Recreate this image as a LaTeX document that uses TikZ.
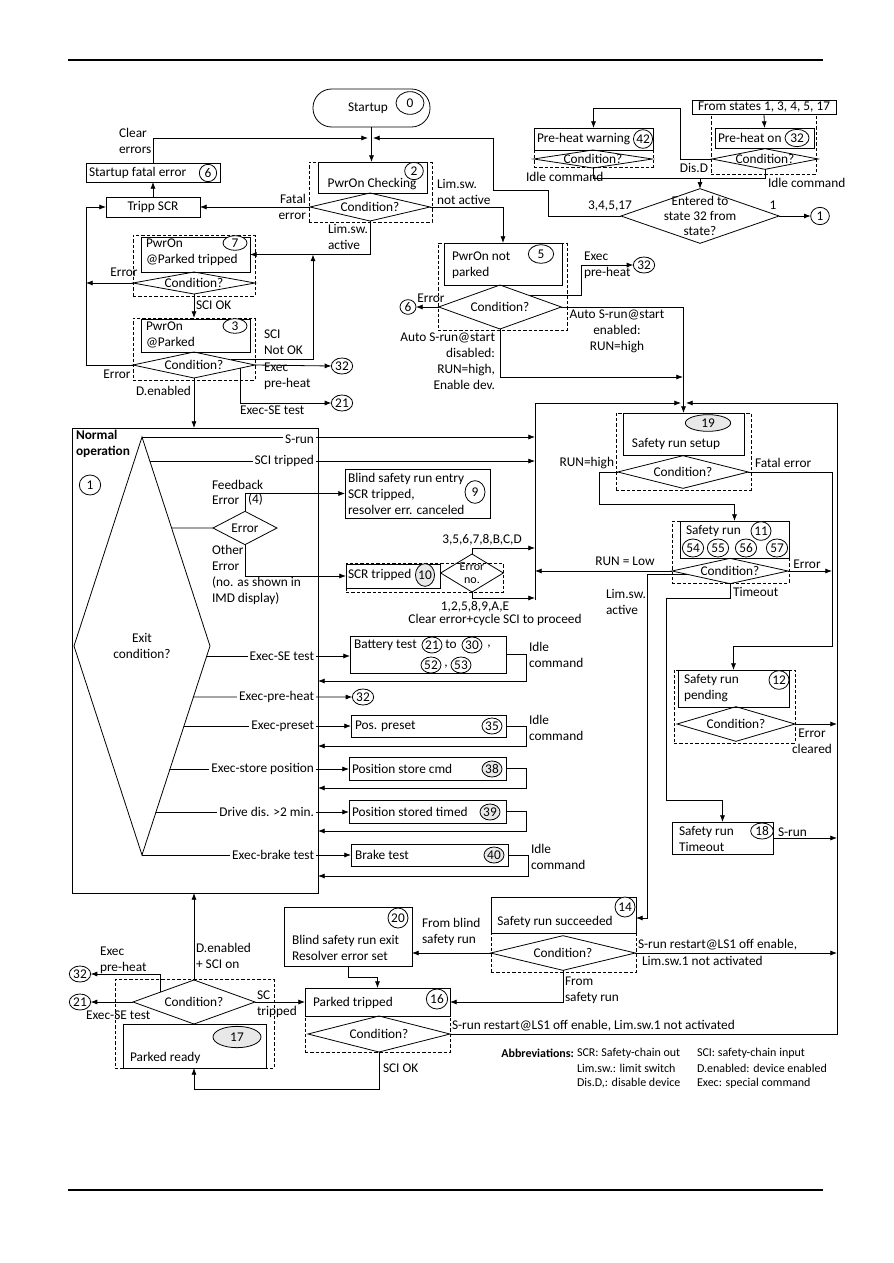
\documentclass[tikz,border=0pt]{standalone}
\usepackage{fontspec}
\setmainfont{Carlito}
\usetikzlibrary{shapes.geometric,arrows.meta,fit,calc}
\begin{document}
\begin{tikzpicture}[x=0.75pt,y=-0.75pt,font=\fontsize{10}{12}\selectfont,line width=0.6pt,
 arr/.style={-{Latex[length=5pt,width=3.8pt]}},
 bx/.style={draw,rectangle,inner sep=0pt,outer sep=0pt},
 dbx/.style={draw,rectangle,dash pattern=on 2.4pt off 1.6pt,inner sep=0pt,outer sep=0pt},
 dia/.style={draw,diamond,inner sep=0pt,outer sep=0pt},
 num/.style={draw,ellipse,inner sep=0pt,outer sep=0pt,minimum width=15pt,minimum height=12pt,fill=white},
 gnum/.style={num,fill=gray!18},
 tx/.style={inner sep=0pt,outer sep=0pt},
 lw/.style={tx,anchor=west,align=left},
 le/.style={tx,anchor=east,align=right},
 br/.style={anchor=east,fill=white,inner sep=1.5pt,outer sep=0pt},
 rule/.style={line width=0.8pt}]
\path[fill=white,use as bounding box] (0,0) rectangle (893,1263);
\draw[rule] (68,60) -- (823,60);
\draw[rule] (68,1190) -- (823,1190);

% ---------------- top left ----------------
\node[bx,rounded corners=14pt,fit={(313,89) (430,127)}] (start) {};
\node[tx] (tstart) at (368,108) {Startup};
\node[num,minimum width=21pt,minimum height=17pt] (n0) at (410,103) {0};
\coordinate (m0l) at (368,138);
\coordinate (m0r) at (373,138);

\node[dbx,fit={(309,162) (432,222)}] (c2) {};
\node[bx,fit={(318,162) (427,193)}] (b2) {};
\node[tx] (t2) at (372,184) {PwrOn Checking};
\node[num,minimum width=14pt,minimum height=13pt] (n2) at (414,171) {2};
\node[dia,minimum width=90pt,minimum height=21pt,label=center:{Condition?}] (d2) at (370,207) {};

\node[bx,fit={(86,163) (220,182)}] (sfe) {};
\node[lw] (tsfe) at (89,173) {Startup fatal error};
\node[num,minimum width=13pt,minimum height=13pt] (n6a) at (208,173) {6};
\node[bx,fit={(106,197) (200,217)},label=center:{Tripp SCR}] (tripp) {};
\node[lw] (tce) at (119,141) {Clear\\errors};
\node[le] (tfe) at (306,207) {Fatal\\error};
\node[lw] (tlna) at (437,192) {Lim.sw.\\not active};
\node[lw] (tla) at (328,237) {Lim.sw.\\active};

% box 7
\node[dbx,fit={(133,235) (255,296)}] (c7) {};
\node[bx,fit={(141,237) (250,272)}] (b7) {};
\node[lw] (t7) at (146,252) {PwrOn\\@Parked tripped};
\node[num,minimum width=18pt,minimum height=11pt] (n7) at (235,243) {7};
\node[dia,minimum width=91.5pt,minimum height=16.5pt,label=center:{Condition?}] (d7) at (194,283) {};
\node[tx] (te7) at (124,272) {Error};
\node[lw] (tsok) at (196,305) {SCI OK};

% box 3
\node[dbx,fit={(133,318) (255,380)}] (c3) {};
\node[bx,fit={(141,319) (250,352)}] (b3) {};
\node[lw] (t3) at (146,335) {PwrOn\\@Parked};
\node[num,minimum width=18pt,minimum height=11pt] (n3) at (235,326) {3};
\node[dia,minimum width=91.5pt,minimum height=19.5pt,label=center:{Condition?}] (d3) at (194,365) {};
\node[tx] (te3) at (117,374) {Error};
\node[lw] (tsnok) at (264,342) {SCI\\Not OK};
\node[lw] (tep3) at (264,376) {Exec\\pre-heat};
\node[lw] (tse3) at (240,410) {Exec-SE test};
\node[le] (tden) at (191,391) {D.enabled};
\node[num,minimum width=16pt,minimum height=12pt] (n32a) at (342,366) {32};
\node[num,minimum width=16pt,minimum height=12pt] (n21a) at (342,403) {21};

% box 5
\node[dbx,fit={(438,243) (567,330)}] (c5) {};
\node[bx,fit={(444,243) (562,285)}] (b5) {};
\node[lw] (t5) at (452,265) {PwrOn not\\parked};
\node[num,minimum width=19pt,minimum height=14pt] (n5) at (541,254) {5};
\node[dia,minimum width=92pt,minimum height=33pt,label=center:{Condition?}] (d5) at (500,307) {};
\node[num,minimum width=12pt,minimum height=11pt] (n6b) at (408,307) {6};
\node[tx] (te5) at (431,298) {Error};
\node[lw] (tep5) at (584,265) {Exec\\pre-heat};
\node[num,minimum width=16pt,minimum height=12pt] (n32b) at (644,265) {32};
\node[tx,align=center] (taen) at (617,331) {Auto S-run@start\\enabled:\\RUN=high};
\node[le] (tadis) at (495,361) {Auto S-run@start\\disabled:\\RUN=high,\\Enable dev.};

% ---------------- top right ----------------
\node[bx,fit={(692,100) (836,114)},label=center:{From states 1, 3, 4, 5, 17}] (fs) {};
\node[dbx,fit={(711,114) (816,174)}] (c32) {};
\node[bx,fit={(715,128) (814,148)}] (b32) {};
\node[lw] (t32) at (718,138) {Pre-heat on};
\node[num,minimum width=18pt,minimum height=13pt] (n32) at (797,138) {32};
\node[dia,minimum width=79.5pt,minimum height=15.5pt,label=center:{Condition?}] (d32) at (765,159) {};

\node[dbx,fit={(534,128) (653,167)}] (c42) {};
\node[bx,fit={(534,128) (653,150)}] (b42) {};
\node[lw] (t42) at (537,139) {Pre-heat warning};
\node[num,minimum width=14pt,minimum height=14pt] (n42) at (643,139) {42};
\node[dia,minimum width=89pt,minimum height=13.5pt,label=center:{Condition?}] (d42) at (593,159) {};
\node[tx] (tdisd) at (694,168) {Dis.D};
\node[lw] (tic1) at (526,177) {Idle command};
\node[lw] (tic2) at (768,183) {Idle command};

\node[dia,minimum width=118.5pt,minimum height=41pt,label={[align=center,font=\fontsize{10}{11}\selectfont]center:Entered to\\state 32 from\\state?}] (de) at (700,216) {};
\node[tx] (t3455) at (610,206) {3,4,5,17};
\node[tx] (tone) at (773,205) {1};
\node[num,minimum width=14pt,minimum height=13pt] (n1b) at (820,216) {1};

% ---------------- normal operation ----------------
\node[bx,fit={(72,428) (318,893)}] (norm) {};
\node[lw,anchor=north west,font=\fontsize{10}{12}\selectfont\bfseries] (tnorm) at (76,430) {Normal\\operation};
\node[num,minimum width=16pt,minimum height=15pt] (n1) at (90,485) {1};
\node[dia,minimum width=102pt,minimum height=313.5pt,label={[align=center]center:Exit\\condition?}] (exit) at (142,646) {};

\node[dia,minimum width=48pt,minimum height=25pt,label=center:{Error}] (de1) at (245,528) {};
\node[lw] (tfb) at (212,485) {Feedback};
\node[lw] (tfe1) at (212,500) {Error};
\node[lw] (tfe4) at (248,500) {(4)};
\node[lw,anchor=north west] (toe) at (212,545) {Other\\Error\\(no. as shown in\\IMD display)};

\node[bx,fit={(345,469) (490,518)}] (b9) {};
\node[lw] (t9) at (348,494) {Blind safety run entry\\SCR tripped,\\resolver err. canceled};
\node[num,minimum width=15pt,minimum height=17pt] (n9) at (475,492) {9};

\node[dbx,fit={(346,563) (503,592)}] (c10) {};
\node[bx,fit={(346,564) (440,588)}] (b10) {};
\node[lw] (t10) at (348,575) {SCR tripped};
\node[gnum,minimum width=13pt,minimum height=17pt] (n10) at (425,575) {10};
\node[dia,minimum width=47pt,minimum height=28.5pt,label={[align=center,font=\fontsize{9}{10}\selectfont]center:Error\\no.}] (dn) at (472,573) {};
\node[tx] (tnum1) at (482,540) {3,5,6,7,8,B,C,D};
\node[tx] (tnum2) at (475,607) {1,2,5,8,9,A,E};
\node[tx] (tclr) at (495,620) {Clear error+cycle SCI to proceed};

\node[bx,fit={(350,636) (506,673)}] (bat) {};
\node[lw] (tbat) at (354,645) {Battery test};
\node[num] (n21b) at (432,645) {21};
\node[tx] (tto) at (451,644) {to};
\node[num] (n30) at (472,645) {30};
\node[tx] (tcm1) at (489,647) {,};
\node[num] (n52) at (431,665) {52};
\node[tx] (tcm2) at (446,667) {,};
\node[num] (n53) at (461,665) {53};
\node[lw] (tidle1) at (529,655) {Idle\\command};
\node[num,minimum width=16pt,minimum height=12pt] (n32d) at (363,697) {32};

\node[bx,fit={(351,715) (506,737)}] (pp) {};
\node[lw] (tpp) at (355,726) {Pos. preset};
\node[num] (n35) at (492,726) {35};
\node[lw] (tidle2) at (529,728) {Idle\\command};

\node[bx,fit={(349,757) (506,780)}] (ps) {};
\node[lw] (tps) at (352,769) {Position store cmd};
\node[gnum] (n38) at (492,769) {38};

\node[bx,fit={(349,800) (506,823)}] (pt) {};
\node[lw] (tpt) at (352,812) {Position stored timed};
\node[gnum] (n39) at (490,812) {39};

\node[bx,fit={(351,844) (508,866)}] (bt) {};
\node[lw] (tbt) at (355,855) {Brake test};
\node[gnum] (n40) at (494,855) {40};
\node[lw] (tidle3) at (531,857) {Idle\\command};

% ---------------- right column ----------------
\node[dbx,fit={(616,413) (751,490)}] (c19) {};
\node[bx,fit={(623,413) (744,455)}] (b19) {};
\node[tx] (t19) at (676,444) {Safety run setup};
\node[gnum,minimum width=34pt,minimum height=12.5pt] (n19) at (708,423) {19};
\node[dia,minimum width=98pt,minimum height=24.5pt,label=center:{Condition?}] (d19) at (683,472) {};
\node[le] (trh) at (614,463) {RUN=high};
\node[lw] (tfat) at (755,463) {Fatal error};

\node[dbx,fit={(672,521) (789,583)}] (c11) {};
\node[bx,fit={(680,521) (789,558)}] (b11) {};
\node[lw] (t11) at (686,531) {Safety run};
\node[num,minimum width=15pt,minimum height=14pt] (n11) at (761,531) {11};
\node[num,minimum width=16pt,minimum height=13.5pt] (n54) at (693,548) {54};
\node[num,minimum width=16pt,minimum height=13.5pt] (n55) at (718,548) {55};
\node[num,minimum width=16pt,minimum height=13.5pt] (n56) at (746,548) {56};
\node[num,minimum width=16pt,minimum height=13.5pt] (n57) at (777,548) {57};
\node[dia,minimum width=87pt,minimum height=19pt,label=center:{Condition?}] (d11) at (730,571) {};
\node[tx] (trl) at (625,561) {RUN = Low};
\node[tx] (terr11) at (807,564) {Error};
\node[lw] (tto11) at (733,592) {Timeout};
\node[lw] (tlsa) at (606,602) {Lim.sw.\\active};

\node[dbx,fit={(674,670) (795,743)}] (c12) {};
\node[bx,fit={(678,670) (789,707)}] (b12) {};
\node[lw] (t12) at (684,688) {Safety run\\pending};
\node[num,minimum width=15pt,minimum height=14pt] (n12) at (779,680) {12};
\node[dia,minimum width=88.5pt,minimum height=26pt,label=center:{Condition?}] (d12) at (736,724) {};
\node[tx,align=center] (tecl) at (812,741) {Error\\cleared};

\node[bx,fit={(672,822) (773,854)}] (b18) {};
\node[lw] (t18) at (679,839) {Safety run\\Timeout};
\node[num,minimum width=17pt,minimum height=12pt] (n18) at (762,831) {18};
\node[lw] (tsr18) at (778,832) {S-run};

% ---------------- bottom ----------------
\node[dbx,fit={(491,897) (636,972)}] (c14) {};
\node[bx,fit={(491,897) (636,933)}] (b14) {};
\node[tx] (t14) at (555,922) {Safety run succeeded};
\node[num,minimum width=15pt,minimum height=15pt] (n14) at (625,907) {14};
\node[dia,minimum width=108.5pt,minimum height=26pt,label=center:{Condition?}] (d14) at (563,953) {};
\node[lw] (tfbs) at (422,932) {From blind\\safety run};
\node[lw] (tfsr) at (565,990) {From\\safety run};
\node[lw] (tsr1) at (638,945) {S-run restart@LS1 off enable,};
\node[lw] (tsr2) at (642,961) {Lim.sw.1 not activated};

\node[bx,fit={(284,907) (412,966)}] (b20) {};
\node[lw] (t20) at (292,948) {Blind safety run exit\\Resolver error set};
\node[num,minimum width=15pt,minimum height=15pt] (n20) at (398,918) {20};

\node[dbx,fit={(305,988) (450,1052)}] (c16) {};
\node[bx,fit={(305,988) (450,1016)}] (b16) {};
\node[lw] (t16) at (313,1003) {Parked tripped};
\node[num,minimum width=16pt,minimum height=15pt] (n16) at (437,999) {16};
\node[dia,minimum width=106.5pt,minimum height=27pt,label=center:{Condition?}] (d16) at (379,1034) {};
\node[lw] (tsr3) at (452,1026) {S-run restart@LS1 off enable, Lim.sw.1 not activated};
\node[lw] (tsok16) at (383,1068) {SCI OK};

\node[dbx,fit={(115,979) (274,1068)}] (c17) {};
\node[bx,fit={(123,1024) (266,1068)}] (b17) {};
\node[gnum,minimum width=36pt,minimum height=16pt] (n17) at (237,1037) {17};
\node[lw] (t17) at (130,1058) {Parked ready};
\node[dia,minimum width=91.5pt,minimum height=33pt,label=center:{Condition?}] (d17) at (194,1002) {};
\node[lw] (tden17) at (196,956) {D.enabled\\+ SCI on};
\node[lw] (tsct) at (257,1004) {SC\\tripped};
\node[lw] (tep17) at (100,960) {Exec\\pre-heat};
\node[lw] (tse17) at (86,1015) {Exec-SE test};
\node[num,minimum width=16pt,minimum height=12pt] (n32c) at (80,974) {32};
\node[num,minimum width=16pt,minimum height=12pt] (n21c) at (80,1002) {21};

% abbreviations
\begin{scope}[font=\fontsize{9}{11}\selectfont]
\node[le,font=\fontsize{9}{11}\selectfont\bfseries] (tabb) at (574,1053) {Abbreviations:};
\node[lw] (ta1) at (577,1053) {SCR: Safety-chain out};
\node[lw] (ta2) at (577,1068) {Lim.sw.: limit switch};
\node[lw] (ta3) at (577,1083) {Dis.D,: disable device};
\node[lw] (ta4) at (697,1053) {SCI: safety-chain input};
\node[lw] (ta5) at (697,1068) {D.enabled: device enabled};
\node[lw] (ta6) at (697,1083) {Exec: special command};
\end{scope}

% ---------------- coordinates ----------------
\coordinate (ej) at (86,207);
\coordinate (jl) at (313,254.5);
\coordinate (k1) at (548,190);
\coordinate (k2) at (493,138);
\coordinate (k3) at (680,108);
\coordinate (k4) at (700,178);
\coordinate (ja) at (683,377);
\coordinate (cb) at (535,600);
\coordinate (col) at (535,440);
\coordinate (j19l) at (681,403);
\coordinate (j19r) at (686,403);
\coordinate (rlt) at (837,403);
\coordinate (cq1) at (535,548);
\coordinate (cq2) at (535,598);
\coordinate (k5) at (599,504);
\coordinate (k6) at (832,646);
\coordinate (k7) at (666,598);
\coordinate (k8) at (666,800);
\coordinate (k9) at (647,918);
\coordinate (k11) at (194,1089);
\coordinate (e5) at (581,265);
\coordinate (r1) at (526,681);
\coordinate (r2) at (526,746);
\coordinate (r3) at (526,788);
\coordinate (r4) at (526,831);
\coordinate (r5) at (528,876);

% ---------------- connectors ----------------
\draw[arr] (start.south) -- (start.south |- b2.north);
\draw[arr] (tripp.north |- sfe.north) |- (m0l);
\draw[arr] (tripp.north) -- (tripp.north |- sfe.south);
\draw[arr] (d2.west) -- (d2.west -| tripp.east);
\draw[arr] (d2.east) -| (b5.north);
\draw[arr] (d2.south) |- (b7.east);
\draw[arr] (de.west) -| (k1) -| (k2) -- (m0r);

\draw[arr] (d7.west) -- (d7.west -| ej);
\draw[arr] (d7.south) -- (d7.south |- c3.north);
\draw[arr] (d3.west) -| (ej) -- (tripp.west);
\draw[arr] ($(d3.north)!0.6!(d3.east)$) -| (jl);
\draw[arr] (d3.east) -- (n32a.west);
\draw[arr] ($(d3.east)!0.24!(d3.south)$) |- (n21a.west);
\draw[arr] (d3.south) -- (d3.south |- norm.north);

\draw[arr] (d5.west) -- (n6b.east);
\draw[arr] ($(d5.north)!0.48!(d5.east)$) -| (e5) -- (n32b.west);
\draw[arr] (d5.east) -| (b19.north);
\draw[arr] (d5.south) |- (ja);

\draw[arr] (fs.south) -- (b32.north);
\draw[arr] (d32.west) -| (k3) -| (b42.north);
\draw (d42.south) |- (k4);
\draw (d32.south) |- (k4);
\draw[arr] (k4) -- (de.north);
\draw[arr] (de.east) -- (n1b.west);

% normal operation branches
\draw[arr] (exit.north) -- (exit.north -| col);
\draw[arr] ($(exit.north)!0.115!(exit.east)$) coordinate (p1) -- (p1 -| col);
\draw ($(exit.north)!0.4354!(exit.east)$) -- (de1.west);
\draw[arr] (de1.north) |- (b9.west);
\draw[arr] (de1.south) |- (b10.west);
\draw[arr] (dn.north) |- (cq1);
\draw[arr] (dn.south) |- (cq2);
\draw[arr] (cb) |- (j19l);
\draw[arr] ($(exit.east)!0.0478!(exit.south)$) coordinate (p2) -- (p2 -| bat.west);
\draw[arr] ($(exit.east)!0.244!(exit.south)$) -- (n32d.west);
\draw[arr] ($(exit.east)!0.3828!(exit.south)$) coordinate (p3) -- (p3 -| pp.west);
\draw[arr] ($(exit.east)!0.5885!(exit.south)$) coordinate (p4) -- (p4 -| ps.west);
\draw[arr] ($(exit.east)!0.7943!(exit.south)$) coordinate (p5) -- (p5 -| pt.west);
\draw[arr] (exit.south) -- (exit.south -| bt.west);
\draw[arr] (bat.east) -| (r1) -- (r1 -| norm.east);
\draw[arr] (pp.east) -| (r2) -- (r2 -| norm.east);
\draw[arr] (ps.east) -| (r3) -- (r3 -| norm.east);
\draw[arr] (pt.east) -| (r4) -- (r4 -| norm.east);
\draw[arr] (bt.east) -| (r5) -- (r5 -| norm.east);

% right column
\draw[arr] (d19.west) -| (k5) -| (b11.north);
\draw[arr] (d19.east) -| (k6) -| (b12.north);
\draw[arr] (d11.west) -- (d11.west -| col);
\draw[arr] (d11.east) -- (d11.east -| k6);
\draw[arr] (d11.south) |- (k7) -- (k8) -| (b18.north);
\draw[arr] ($(d11.west)!0.25!(d11.south)$) -| (k9) -- (k9 -| c14.east);
\draw[arr] (d12.east) -- (d12.east -| rlt);
\draw[arr] (b18.east) -- (b18.east -| rlt);
\draw[arr] (d16.east) -| (rlt) -- (j19r);
\draw[arr] (d14.east) -- (d14.east -| rlt);
\draw[arr] (d14.west) -- (d14.west -| b20.east);
\draw[arr] (d14.south) |- (b16.east);
\draw[arr] (b20.south) -- ++(0,11) -| (c16.north);
\draw[arr] (d16.south) |- (k11) -- (k11 |- b17.south);
\draw[arr] (d17.north) -- (d17.north |- norm.south);
\draw[arr] (d17.east) -- (d17.east -| c16.west);
\draw[arr] ($(d17.north)!0.55!(d17.west)$) |- (n32c.east);
\draw[arr] (d17.west) -- (n21c.east);

% branch labels over lines
\node[br] (lsrun) at (316,439) {S-run};
\node[br] (lsci) at (316,461) {SCI tripped};
\node[br] (lse) at (316,656) {Exec-SE test};
\node[br] (lph) at (316,697) {Exec-pre-heat};
\node[br] (lpre) at (316,726) {Exec-preset};
\node[br] (lsto) at (316,769) {Exec-store position};
\node[br] (ldrv) at (316,812) {Drive dis. >2 min.};
\node[br] (lbrk) at (316,855) {Exec-brake test};
\end{tikzpicture}
\end{document}
